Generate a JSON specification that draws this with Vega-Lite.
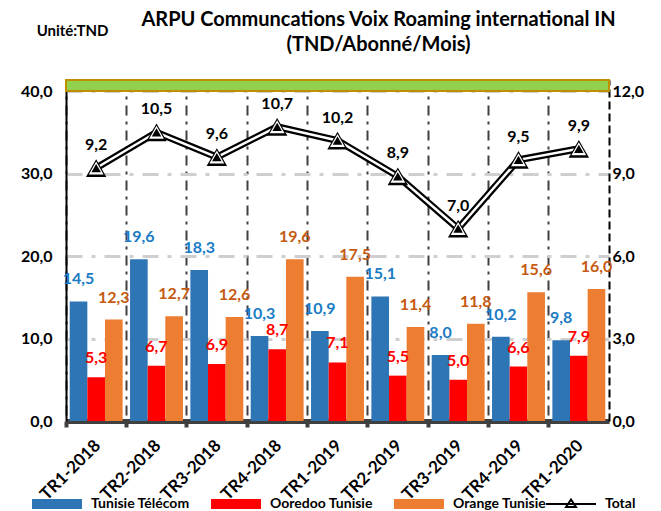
{
  "$schema": "https://vega.github.io/schema/vega-lite/v6.json",
  "autosize": "none",
  "width": 543,
  "height": 341,
  "padding": {"left": 66, "top": 80, "right": 52, "bottom": 90},
  "background": "white",
  "config": {
    "font": "Lato",
    "view": {"stroke": null},
    "locale": {"number": {"decimal": ",", "thousands": " ", "grouping": [3], "currency": ["", " TND"]}}
  },
  "title": {
    "text": ["ARPU Communcations  Voix Roaming international IN", "(TND/Abonné/Mois)"],
    "fontSize": 20,
    "fontWeight": "bold",
    "font": "Lato",
    "color": "black",
    "lineHeight": 25,
    "offset": -32,
    "anchor": "middle",
    "frame": "group",
    "dx": 41
  },
  "datasets": {
    "bars": [
      {"q": "TR1-2018", "op": "Tunisie Télécom", "v": 14.5},
      {"q": "TR1-2018", "op": "Ooredoo Tunisie", "v": 5.3},
      {"q": "TR1-2018", "op": "Orange Tunisie", "v": 12.3},
      {"q": "TR2-2018", "op": "Tunisie Télécom", "v": 19.6},
      {"q": "TR2-2018", "op": "Ooredoo Tunisie", "v": 6.7},
      {"q": "TR2-2018", "op": "Orange Tunisie", "v": 12.7},
      {"q": "TR3-2018", "op": "Tunisie Télécom", "v": 18.3},
      {"q": "TR3-2018", "op": "Ooredoo Tunisie", "v": 6.9},
      {"q": "TR3-2018", "op": "Orange Tunisie", "v": 12.6},
      {"q": "TR4-2018", "op": "Tunisie Télécom", "v": 10.3},
      {"q": "TR4-2018", "op": "Ooredoo Tunisie", "v": 8.7},
      {"q": "TR4-2018", "op": "Orange Tunisie", "v": 19.6},
      {"q": "TR1-2019", "op": "Tunisie Télécom", "v": 10.9},
      {"q": "TR1-2019", "op": "Ooredoo Tunisie", "v": 7.1},
      {"q": "TR1-2019", "op": "Orange Tunisie", "v": 17.5},
      {"q": "TR2-2019", "op": "Tunisie Télécom", "v": 15.1},
      {"q": "TR2-2019", "op": "Ooredoo Tunisie", "v": 5.5},
      {"q": "TR2-2019", "op": "Orange Tunisie", "v": 11.4},
      {"q": "TR3-2019", "op": "Tunisie Télécom", "v": 8.0},
      {"q": "TR3-2019", "op": "Ooredoo Tunisie", "v": 5.0},
      {"q": "TR3-2019", "op": "Orange Tunisie", "v": 11.8},
      {"q": "TR4-2019", "op": "Tunisie Télécom", "v": 10.2},
      {"q": "TR4-2019", "op": "Ooredoo Tunisie", "v": 6.6},
      {"q": "TR4-2019", "op": "Orange Tunisie", "v": 15.6},
      {"q": "TR1-2020", "op": "Tunisie Télécom", "v": 9.8},
      {"q": "TR1-2020", "op": "Ooredoo Tunisie", "v": 7.9},
      {"q": "TR1-2020", "op": "Orange Tunisie", "v": 16.0}
    ],
    "total": [
      {"q": "TR1-2018", "total": 9.2},
      {"q": "TR2-2018", "total": 10.5},
      {"q": "TR3-2018", "total": 9.6},
      {"q": "TR4-2018", "total": 10.7},
      {"q": "TR1-2019", "total": 10.2},
      {"q": "TR2-2019", "total": 8.9},
      {"q": "TR3-2019", "total": 7.0},
      {"q": "TR4-2019", "total": 9.5},
      {"q": "TR1-2020", "total": 9.9}
    ]
  },
  "encoding": {
    "x": {
      "field": "q",
      "type": "nominal",
      "sort": null,
      "scale": {"paddingInner": 0, "paddingOuter": 0},
      "axis": {
        "title": null,
        "labelAngle": -45,
        "labelAlign": "right",
        "labelBaseline": "top",
        "labelPadding": 10,
        "labelOffset": -4,
        "labelFontSize": 17,
        "labelFontWeight": "bold",
        "labelColor": "black",
        "labelFont": "Lato",
        "labelLimit": 200,
        "domainColor": "#404040",
        "domainWidth": 5,
        "ticks": true,
        "tickColor": "#404040",
        "tickSize": 6,
        "tickWidth": 4,
        "bandPosition": 0,
        "grid": true,
        "gridColor": "#404040",
        "gridWidth": 2,
        "gridDash": [10, 6, 3, 6]
      }
    }
  },
  "layer": [
    {
      "layer": [
        {
          "data": {"values": [{"lo": 40, "hi": 41.34}]},
          "mark": {"type": "rect", "fill": "#92D050", "stroke": "#BF8F00", "strokeWidth": 2},
          "encoding": {
            "x": null,
            "y": {"field": "lo", "type": "quantitative"},
            "y2": {"field": "hi"}
          }
        },
        {
          "data": {"name": "bars"},
          "mark": {"type": "bar"},
          "encoding": {
            "xOffset": {"field": "op", "type": "nominal", "sort": ["Tunisie Télécom", "Ooredoo Tunisie", "Orange Tunisie"], "scale": {"paddingInner": 0, "paddingOuter": 0.21}},
            "y": {
              "field": "v",
              "type": "quantitative",
              "scale": {"domain": [0, 41.34], "nice": false},
              "axis": {
                "title": "Unité:TND",
                "titleAngle": 0,
                "titleAlign": "center",
                "titleBaseline": "middle",
                "titleX": 6,
                "titleY": -50,
                "titleFontSize": 15,
                "titleFontWeight": "bold",
                "titleColor": "black",
                "titleFont": "Lato",
                "values": [0, 10, 20, 30, 40],
                "format": ".1f",
                "labelFontSize": 16,
                "labelFontWeight": "bold",
                "labelColor": "black",
                "labelFont": "Lato",
                "labelPadding": 14,
                "ticks": false,
                "domainColor": "black",
                "domainWidth": 2,
                "grid": true,
                "gridColor": "#CFCFCF",
                "gridWidth": 3,
                "gridDash": [16, 9, 4, 9]
              }
            },
            "fill": {
              "field": "op",
              "type": "nominal",
              "scale": {"domain": ["Tunisie Télécom", "Ooredoo Tunisie", "Orange Tunisie"], "range": ["#2E75B6", "#FF0000", "#ED7D31"]},
              "legend": {
                "title": null,
                "orient": "none",
                "direction": "horizontal",
                "legendX": -16,
                "legendY": 417,
                "symbolType": "M-5,-1H5V1H-5Z",
                "symbolSize": 100,
                "symbolStrokeWidth": 0,
                "labelOffset": 27,
                "columnPadding": 21,
                "labelFontSize": 14,
                "labelFontWeight": "bold",
                "labelColor": "black",
                "labelFont": "Lato"
              }
            }
          }
        },
        {
          "data": {"name": "bars"},
          "transform": [{"filter": "datum.op !== 'Ooredoo Tunisie'"}],
          "mark": {"type": "text", "fontSize": 16, "fontWeight": "bold", "baseline": "alphabetic", "dy": -17, "font": "Lato"},
          "encoding": {
            "xOffset": {"field": "op", "type": "nominal", "sort": ["Tunisie Télécom", "Ooredoo Tunisie", "Orange Tunisie"]},
            "y": {"field": "v", "type": "quantitative"},
            "text": {"field": "v", "type": "quantitative", "format": ".1f"},
            "color": {
              "field": "op",
              "type": "nominal",
              "scale": {"domain": ["Tunisie Télécom", "Ooredoo Tunisie", "Orange Tunisie"], "range": ["#1B7BC4", "#FF0000", "#C55A11"]},
              "legend": null
            }
          }
        },
        {
          "data": {"name": "bars"},
          "transform": [{"filter": "datum.op === 'Ooredoo Tunisie'"}],
          "mark": {"type": "text", "fontSize": 16, "fontWeight": "bold", "baseline": "alphabetic", "dy": -14, "font": "Lato"},
          "encoding": {
            "xOffset": {"field": "op", "type": "nominal", "sort": ["Tunisie Télécom", "Ooredoo Tunisie", "Orange Tunisie"]},
            "y": {"field": "v", "type": "quantitative"},
            "text": {"field": "v", "type": "quantitative", "format": ".1f"},
            "color": {
              "field": "op",
              "type": "nominal",
              "legend": null
            }
          }
        }
      ]
    },
    {
      "data": {"name": "total"},
      "encoding": {
        "y": {
          "field": "total",
          "type": "quantitative",
          "scale": {"domain": [0, 12.402], "nice": false},
          "axis": {
            "orient": "right",
            "title": null,
            "values": [0, 3, 6, 9, 12],
            "format": ".1f",
            "labelFontSize": 16,
            "labelFontWeight": "bold",
            "labelColor": "black",
            "labelFont": "Lato",
            "labelPadding": 3,
            "ticks": false,
            "grid": false,
            "domainColor": "black",
            "domainWidth": 2,
            "domainDash": [8, 4]
          }
        }
      },
      "layer": [
        {
          "mark": {"type": "line", "strokeWidth": 7},
          "encoding": {
            "stroke": {
              "datum": "Total",
              "scale": {"domain": ["Total"], "range": ["black"]},
              "legend": {
                "title": null,
                "orient": "none",
                "legendX": 498,
                "legendY": 417,
                "symbolType": "M-5,0H5M-1,0.6L0,-0.9L1,0.6Z",
                "symbolSize": 100,
                "symbolStrokeWidth": 2,
                "symbolFillColor": "white",
                "labelOffset": 27,
                "labelFontSize": 14,
                "labelFontWeight": "bold",
                "labelColor": "black",
                "labelFont": "Lato"
              }
            }
          }
        },
        {
          "mark": {"type": "line", "strokeWidth": 2.5, "stroke": "white"},
          "encoding": {}
        },
        {
          "mark": {"type": "point", "shape": "triangle-up", "filled": true, "fill": "black", "size": 420, "opacity": 1},
          "encoding": {}
        },
        {
          "mark": {"type": "point", "shape": "triangle-up", "filled": true, "fill": "white", "size": 220, "opacity": 1},
          "encoding": {}
        },
        {
          "mark": {"type": "point", "shape": "triangle-up", "filled": true, "fill": "black", "size": 90, "opacity": 1},
          "encoding": {}
        },
        {
          "mark": {"type": "text", "fontSize": 16, "fontWeight": "bold", "baseline": "alphabetic", "dy": -18, "color": "black", "font": "Lato"},
          "encoding": {
            "text": {"field": "total", "type": "quantitative", "format": ".1f"}
          }
        }
      ]
    }
  ],
  "resolve": {"scale": {"y": "independent"}}
}
